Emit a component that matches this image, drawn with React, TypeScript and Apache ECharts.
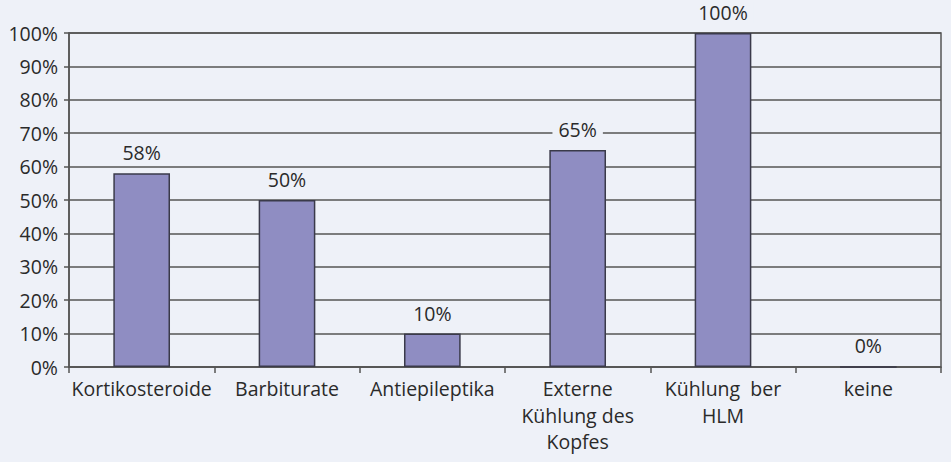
import React, { useEffect, useRef } from "react";
import * as echarts from "echarts";

const categories = [
  "Kortikosteroide",
  "Barbiturate",
  "Antiepileptika",
  "Externe\nKühlung des\nKopfes",
  "Kühlung  ber\nHLM",
  "keine",
];
const values = [58, 50, 10, 65, 100, 0];
const yTicks = [0, 10, 20, 30, 40, 50, 60, 70, 80, 90, 100];

const BG = "#eef1f8";
const FONT = "'Open Sans', 'Noto Sans', sans-serif";

export default function App() {
  const ref = useRef<HTMLDivElement>(null);
  useEffect(() => {
    if (!ref.current) return;
    const chart = echarts.init(ref.current, undefined, { renderer: "svg" });
    chart.setOption({
      animation: false,
      backgroundColor: BG,
      textStyle: { fontFamily: FONT },
      grid: {
        left: 69,
        right: 10,
        top: 33,
        bottom: 95,
        show: true,
        borderColor: "#555",
        borderWidth: 1.5,
        backgroundColor: "transparent",
      },
      xAxis: {
        type: "category",
        data: categories,
        axisLine: { lineStyle: { color: "#555", width: 1.5 } },
        axisTick: { show: true, length: 6, alignWithLabel: false, lineStyle: { color: "#555", width: 1.5 } },
        axisLabel: {
          color: "#2a2a2a",
          fontSize: 19.5,
          fontFamily: FONT,
          lineHeight: 26.5,
          margin: 8.5,
          interval: 0,
        },
      },
      yAxis: {
        type: "value",
        min: yTicks[0],
        max: yTicks[yTicks.length - 1],
        interval: 10,
        axisLine: { show: true, lineStyle: { color: "#555", width: 1.5 } },
        axisTick: { show: true, length: 5, lineStyle: { color: "#555", width: 1.5 } },
        axisLabel: {
          color: "#2a2a2a",
          fontSize: 19.5,
          fontFamily: FONT,
          margin: 11,
          formatter: (v: number) => v + "%",
        },
        splitLine: { lineStyle: { color: "#555", width: 1.5 } },
      },
      series: [
        {
          type: "bar",
          data: values,
          barWidth: "39%",
          itemStyle: { color: "#8f8dc2", borderColor: "#3a3a4a", borderWidth: 1.5 },
          label: {
            show: true,
            position: "top",
            distance: 10,
            formatter: (p: any) => p.value + "%",
            color: "#2a2a2a",
            fontSize: 19.5,
            lineHeight: 21,
            fontFamily: FONT,
            backgroundColor: BG,
            padding: [0, 6],
          },
        },
      ],
    });
    return () => chart.dispose();
  }, []);
  return <div ref={ref} style={{ width: 951, height: 462, position: "absolute", left: 0, top: 0 }} />;
}
